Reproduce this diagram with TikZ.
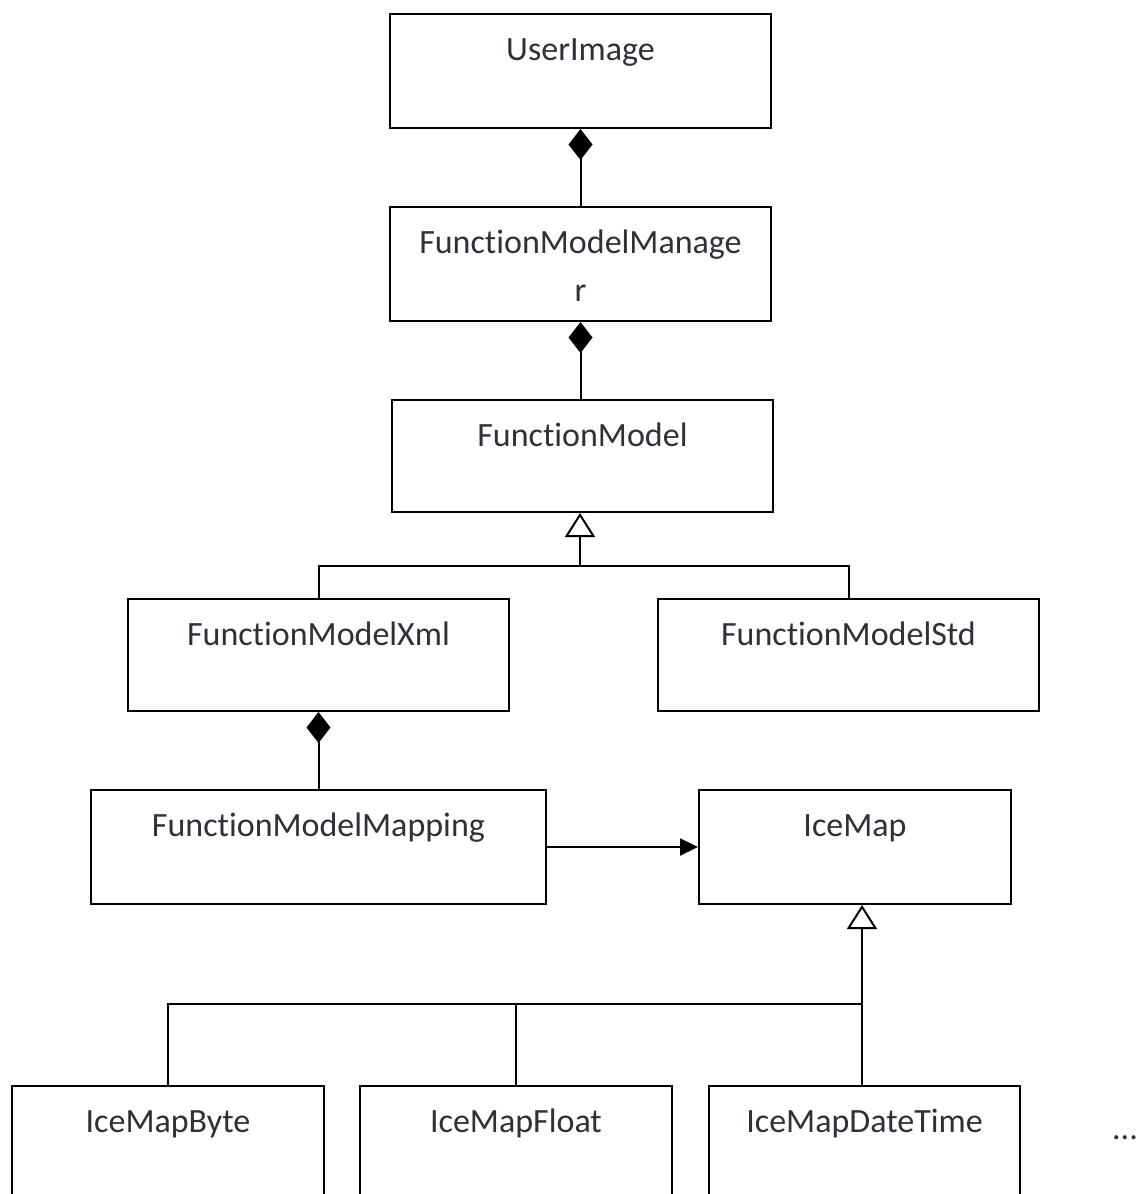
\documentclass[tikz,border=0pt]{standalone}
\usepackage{fontspec}
\setmainfont{Carlito}[Ligatures=NoCommon]
\usetikzlibrary{arrows.meta,calc}
\definecolor{txt}{RGB}{48,48,58}
\tikzset{
  x=1pt, y=-1pt,
  cls/.style={draw=black, line width=2pt, rectangle, inner sep=0pt, anchor=north west},
  ttl/.style={anchor=base, text=txt, font=\fontsize{34}{48}\selectfont, inner sep=0pt},
  conn/.style={draw=black, line width=2pt},
  comp/.style={conn, {Diamond[length=31pt,width=24pt]}-},
  inh/.style={conn, {Triangle[open,length=24pt,width=30pt,line width=2pt]}-},
  assoc/.style={conn, -{Triangle[length=18pt,width=17pt]}},
}
% class box with its title set from the top, first line on a fixed baseline
\newcommand{\classbox}[6]{% name, x0, y0, x1, y1, title
  \node[cls, minimum width={(#4-#2)*1pt}, minimum height={(#5-#3)*1pt}] (#1) at (#2,#3) {};
  \node[ttl] (#1-t) at ($(#1.north)+(0,47)$) {\begin{tabular}[t]{@{}c@{}}#6\end{tabular}};
}
\begin{document}
\begin{tikzpicture}
  \useasboundingbox[fill=white] (0,0) rectangle (1141,1194);
  \clip (0,0) rectangle (1141,1194);

  % classes
  \classbox{ui}{389}{13}{770}{127}{UserImage}
  \classbox{fmm}{389}{206}{770}{320}{FunctionModelManage\\r}
  \classbox{fm}{391}{399}{772}{511}{FunctionModel}
  \classbox{fmx}{127}{598}{508}{710}{FunctionModelXml}
  \classbox{fms}{657}{598}{1038}{710}{FunctionModelStd}
  \classbox{fmp}{90}{789}{545}{903}{FunctionModelMapping}
  \classbox{im}{698}{789}{1010}{903}{IceMap}
  \classbox{imb}{11}{1085}{323}{1220}{IceMapByte}
  \classbox{imf}{359}{1085}{671}{1220}{IceMapFloat}
  \classbox{imd}{708}{1085}{1019}{1220}{IceMapDateTime}
  \node[ttl] (more) at (1125,1139) {...};

  % composition
  \draw[comp] (ui.south) -- (fmm.north);
  \draw[comp] (fmm.south) -- (fmm.south |- fm.north);
  \draw[comp] (fmx.south) -- (fmx.south |- fmp.north);

  % FunctionModel generalisation
  \coordinate (j1) at (580,566);
  \draw[inh] (j1 |- fm.south) -- (j1);
  \draw[conn] (j1) -| (fmx.north);
  \draw[conn] (j1) -| (fms.north);

  % association
  \draw[assoc] (fmp.east) -- (im.west);

  % IceMap generalisation
  \coordinate (j2) at (862,1004);
  \draw[inh] (j2 |- im.south) -- (j2);
  \draw[conn] (j2) -| (imb.north);
  \draw[conn] (j2) -| (imf.north);
  \draw[conn] (j2) -- (j2 |- imd.north);
\end{tikzpicture}
\end{document}
